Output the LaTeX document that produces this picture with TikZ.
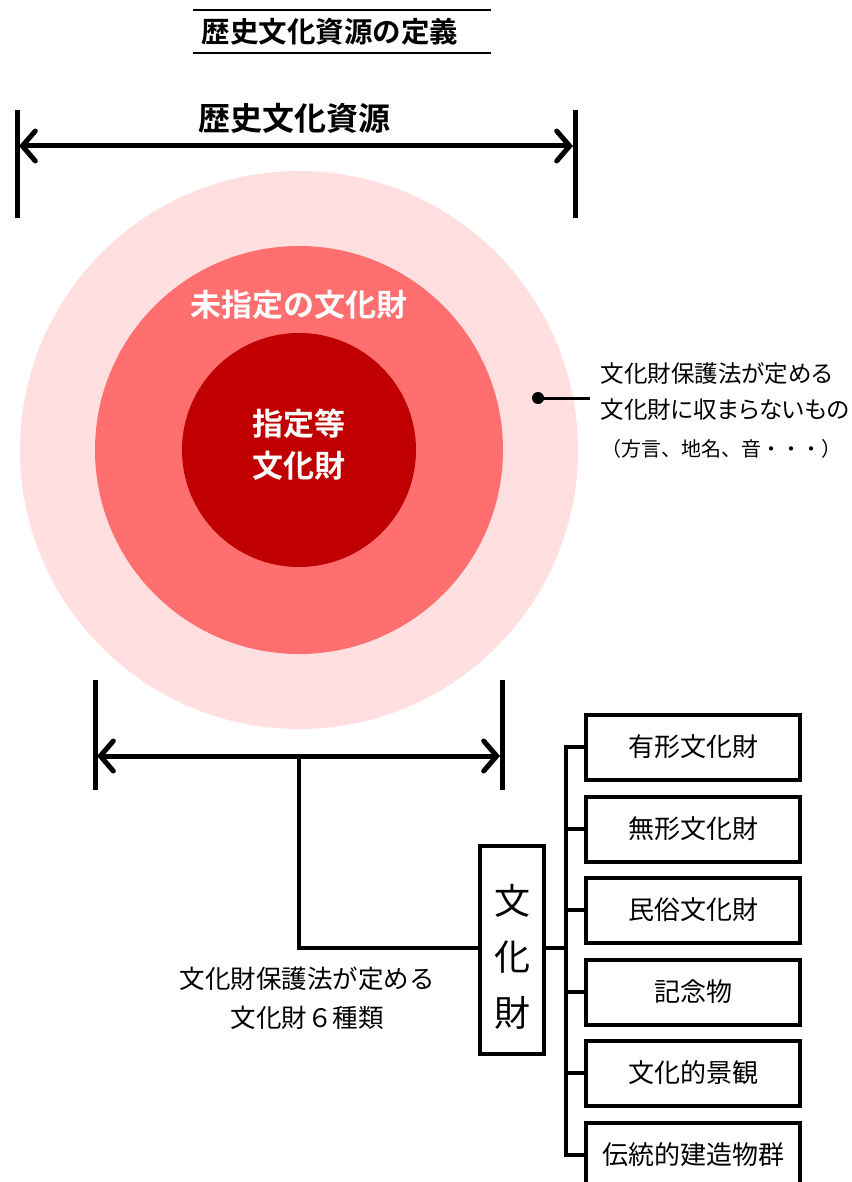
\documentclass[tikz,border=0pt]{standalone}
\usepackage{fontspec}
\setmainfont{Noto Sans CJK JP}
\newfontfamily\jpb{Noto Sans CJK JP Bold}
\newfontfamily\jpp[RawFeature=+palt]{Noto Sans CJK JP}
\usetikzlibrary{arrows.meta}
\definecolor{outerpink}{HTML}{FFDFE0}
\definecolor{midred}{HTML}{FF6F6F}
\definecolor{innerred}{HTML}{C00000}
\tikzset{
  thick line/.style={line width=5pt},
  conn/.style={line width=4pt, line cap=rect},
  dim arrow/.style={line width=5pt, {Straight Barb[length=13pt,width=30pt,line cap=round,line width=5pt]}-{Straight Barb[length=13pt,width=30pt,line cap=round,line width=5pt]}},
  catbox/.style={draw, line width=4pt, minimum width=214pt, minimum height=65pt, inner sep=0pt, font=\fontsize{26}{30}\selectfont},
  whitelbl/.style={text=white, font=\jpb\fontsize{31}{42}\selectfont, align=center},
}
\begin{document}
\begin{tikzpicture}[x=1pt,y=-1pt]
\path[use as bounding box] (0,0) rectangle (851,1182);
% title
\draw[line width=1.5pt] (193,10) -- (491,10);
\draw[line width=1.5pt] (193,53) -- (491,53);
\node[font=\jpb\fontsize{28.5}{30}\selectfont] (title) at (330,32) {歴史文化資源の定義};
% circles
\fill[outerpink] (299,450) circle (279);
\fill[midred] (299,450) circle (204);
\fill[innerred] (299,450) circle (117);
\node[whitelbl] (unspec) at (299,305) {未指定の文化財};
\node[whitelbl] (spec) at (299,445) {指定等\\文化財};
% top dimension
\coordinate (tl1) at (17,110); \coordinate (tl2) at (17,218);
\coordinate (tr1) at (575,110); \coordinate (tr2) at (575,218);
\draw[thick line] (tl1) -- (tl2);
\draw[thick line] (tr1) -- (tr2);
\coordinate (ta) at (19,146); \coordinate (tb) at (573,146);
\draw[dim arrow] (ta) -- (tb);
\node[font=\jpb\fontsize{32}{34}\selectfont] (reslabel) at (294,118) {歴史文化資源};
% annotation
\node[circle, fill=black, inner sep=0pt, minimum size=12pt] (dot) at (538,398) {};
\coordinate (dotend) at (590,398);
\draw[line width=3pt] (dot.center) -- (dotend);
\node[anchor=west, align=left, font=\jpp\fontsize{23.5}{36}\selectfont] (annot) at (597,392) {文化財保護法が定める\\文化財に収まらないもの};
\node[anchor=west, inner sep=0pt, font=\fontsize{20}{26}\selectfont] (annot2) at (601,449) {（方言、地名、音・・・）};
% bottom dimension
\coordinate (bl1) at (95,680); \coordinate (bl2) at (95,790);
\coordinate (br1) at (502,680); \coordinate (br2) at (502,790);
\draw[thick line] (bl1) -- (bl2);
\draw[thick line] (br1) -- (br2);
\coordinate (ba) at (97,756); \coordinate (bb) at (500,756);
\draw[dim arrow] (ba) -- (bb);
\coordinate (bmid) at (299,756);
\coordinate (bcorner) at (299,948);
% bunkazai box
\node[draw, line width=4pt, minimum width=64pt, minimum height=208pt, inner sep=0pt] (bkz) at (512,950) {};
\node[font=\fontsize{36}{56}\selectfont, align=center] (bkztext) at (512,957) {文\\化\\財};
\draw[conn, line cap=butt] (bmid) -- (bcorner) -- (bcorner -| bkz.west);
\node[align=center, font=\fontsize{25.5}{39}\selectfont] (sixlbl) at (307,998) {文化財保護法が定める\\文化財６種類};
% category boxes
\node[catbox] (c1) at (693,747) {有形文化財};
\node[catbox] (c2) at (693,829) {無形文化財};
\node[catbox] (c3) at (693,910) {民俗文化財};
\node[catbox] (c4) at (693,992) {記念物};
\node[catbox] (c5) at (693,1073) {文化的景観};
\node[catbox] (c6) at (693,1155) {伝統的建造物群};
\coordinate (sp1) at (566,747);
\coordinate (sp6) at (566,1155);
\draw[conn] (sp1) -- (sp6);
\draw[conn, line cap=butt] (bkz.east |- 0,948) -- (566,948);
\foreach \b in {c1,c2,c3,c4,c5,c6}{
  \draw[conn, line cap=butt] (\b.west -| sp1) -- (\b.west);
}
\end{tikzpicture}
\end{document}
